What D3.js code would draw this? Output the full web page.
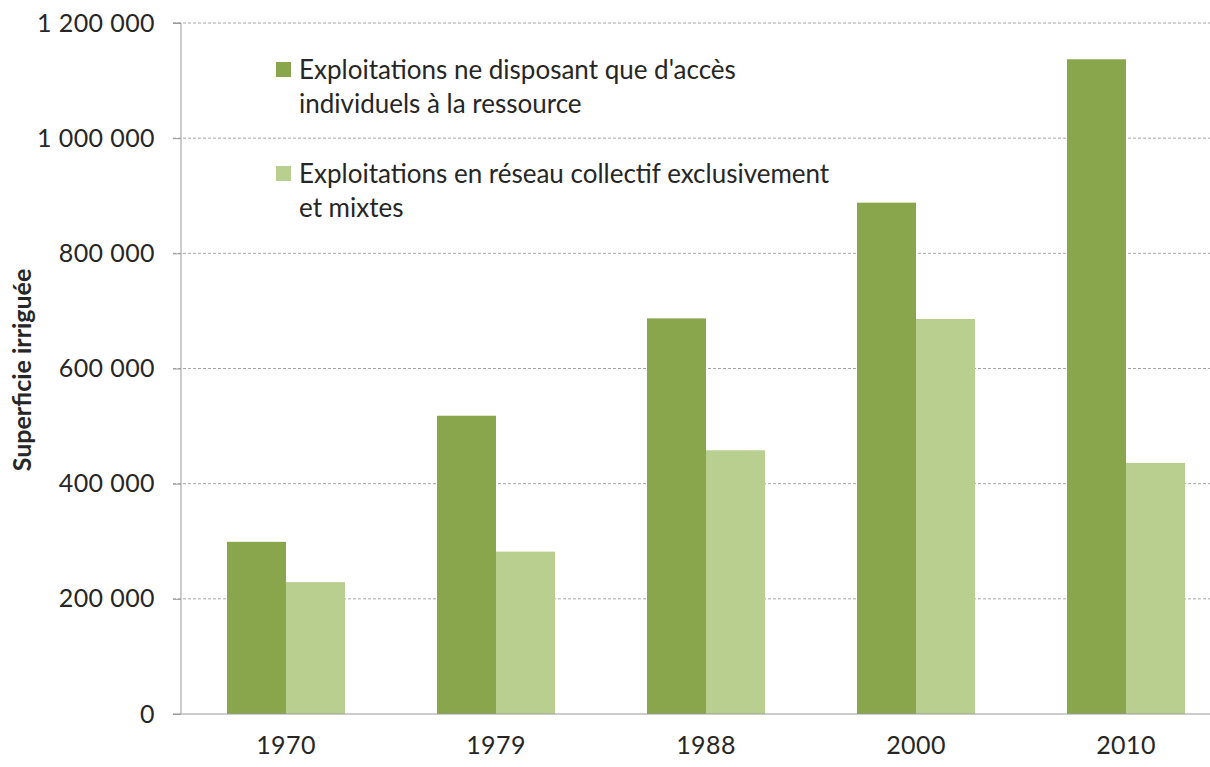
<!DOCTYPE html>
<html><head><meta charset="utf-8">
<script src="https://cdn.jsdelivr.net/npm/d3@7"></script>
<style>body{margin:0;background:#fff}svg{display:block}text{font-family:Lato,"Open Sans",sans-serif;fill:#262626}</style>
</head><body><svg id="c" width="1210" height="767"></svg>
<script>
const years = ["1970","1979","1988","2000","2010"];
const individuels = [299000, 518000, 687000, 888000, 1137000];
const collectifs = [229000, 282000, 458000, 686000, 436000];
const seriesNames = ["Exploitations ne disposant que d'accès|individuels à la ressource","Exploitations en réseau collectif exclusivement|et mixtes"];
const colors = ["#8aa64c","#b9cf90"];
const yTicks = [0,200000,400000,600000,800000,1000000,1200000];

const svg = d3.select("#c");
const pL = 181, pR = 1231, pT = 23, pB = 714;
const x = d3.scaleBand().domain(years).range([pL, pR]).paddingInner(0.438).paddingOuter(0.219);
const x1 = d3.scaleBand().domain([0,1]).range([0, x.bandwidth()]);
const y = d3.scaleLinear().domain([0,1200000]).range([pB, pT]);
const fmt = v => d3.format(",")(v).replace(/,/g," ");

svg.append("g").selectAll("line").data(yTicks.filter(d=>d>0)).join("line")
  .attr("x1",173).attr("x2",1210).attr("y1",d=>y(d)).attr("y2",d=>y(d))
  .attr("stroke","#a6a6a6").attr("stroke-width",1).attr("stroke-dasharray","3,2");

const ya = svg.append("g").attr("transform",`translate(${pL},0)`)
  .call(d3.axisLeft(y).tickValues(yTicks).tickFormat(fmt).tickSize(8).tickPadding(18));
ya.select(".domain").attr("stroke","#999").attr("d",`M-8,${pT}H0V${pB}`);
ya.selectAll(".tick line").attr("stroke","#999");
ya.selectAll(".tick text").attr("font-size",25).attr("fill","#333").attr("letter-spacing","0.4px").style("font-family","Lato,sans-serif");

const series = [individuels, collectifs];
series.forEach((vals,si)=>{
  svg.append("g").selectAll("rect").data(vals).join("rect")
    .attr("x",(d,i)=>x(years[i])+x1(si)).attr("width",x1.bandwidth())
    .attr("y",d=>y(d)).attr("height",d=>pB-y(d)).attr("fill",colors[si]);
});

svg.append("line").attr("x1",173).attr("x2",1210).attr("y1",pB).attr("y2",pB).attr("stroke","#999");

const xa = svg.append("g").attr("transform",`translate(0,${pB})`).call(d3.axisBottom(x).tickSize(0).tickPadding(22));
xa.select(".domain").remove();
xa.selectAll(".tick text").attr("font-size",25).attr("fill","#333").attr("letter-spacing","0.4px").style("font-family","Lato,sans-serif");

svg.append("text").attr("transform","translate(31,370) rotate(-90)").attr("text-anchor","middle")
  .attr("font-size",25).attr("font-weight","bold").text("Superficie irriguée");

const legY = [70, 174];
seriesNames.forEach((n,i)=>{
  const g = svg.append("g").attr("transform",`translate(276,${legY[i]})`);
  g.append("rect").attr("x",0).attr("y",-8).attr("width",15).attr("height",15).attr("fill",colors[i]);
  n.split("|").forEach((t,j)=>{
    g.append("text").attr("x",23).attr("y",9+j*34).attr("font-size",26).attr("fill","#333").text(t);
  });
});
</script></body></html>
